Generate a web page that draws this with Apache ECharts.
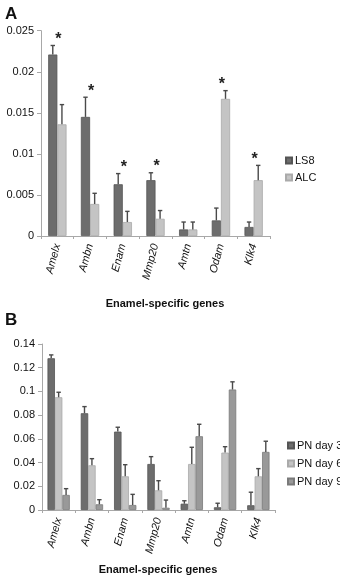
<!DOCTYPE html>
<html><head><meta charset="utf-8">
<script src="https://cdn.jsdelivr.net/npm/echarts@6/dist/echarts.min.js"></script>
<style>html,body{margin:0;padding:0;background:#fff}#c{width:340px;height:578px}</style>
</head><body><div id="c"></div>
<script>
const genes = ['Amelx','Ambn','Enam','Mmp20','Amtn','Odam','Klk4'];
// Panel A
const ticksA = [0, 0.005, 0.01, 0.015, 0.02, 0.025];
const ls8 = [0.0221, 0.0145, 0.0063, 0.0068, 0.0008, 0.0019, 0.0011];
const ls8Err = [0.0011, 0.0024, 0.0013, 0.0009, 0.0009, 0.0015, 0.0006];
const alc = [0.0136, 0.0039, 0.0017, 0.0021, 0.0008, 0.0167, 0.0068];
const alcErr = [0.0024, 0.0013, 0.0013, 0.0010, 0.0009, 0.0010, 0.0018];
const sigA = [1, 1, 1, 1, 0, 1, 1];
// Panel B
const ticksB = [0, 0.02, 0.04, 0.06, 0.08, 0.1, 0.12, 0.14];
const day3 = [0.128, 0.0816, 0.0661, 0.0388, 0.0053, 0.0023, 0.0040];
const day3Err = [0.0028, 0.0056, 0.0037, 0.0062, 0.0025, 0.0034, 0.0110];
const day6 = [0.0951, 0.0377, 0.0284, 0.0166, 0.0388, 0.0484, 0.0284];
const day6Err = [0.0042, 0.0056, 0.0098, 0.0081, 0.0141, 0.0050, 0.0065];
const day9 = [0.0127, 0.0048, 0.0042, 0.0019, 0.0622, 0.1016, 0.0490];
const day9Err = [0.0053, 0.0039, 0.0090, 0.0065, 0.0101, 0.0065, 0.0090];

const FONT = 'Liberation Sans, Arial, sans-serif';
const DARK = '#6d6d6d', LIGHT = '#c4c4c4', MID = '#999999';
const gapA = 0.44, gapB = 0.33;

function errSeries(name, vals, errs, idx, n, gap, ax) {
  return {
    type: 'custom', name: name + '_err', xAxisIndex: ax, yAxisIndex: ax, z: 5,
    silent: true, legendHoverLink: false,
    data: vals.map((v, i) => [i, v, errs[i]]),
    encode: { x: 0, y: 1 },
    renderItem: function (params, api) {
      const x = api.value(0), v = api.value(1), e = api.value(2);
      const band = api.size([1, 0])[0];
      const bw = band * (1 - gap) / n;
      const off = -band * (1 - gap) / 2 + bw * (idx + 0.5);
      const p0 = api.coord([x, v]);
      const p1 = api.coord([x, v + e]);
      const cx = p0[0] + off;
      const st = { stroke: '#4a4a4a', lineWidth: 1.4 };
      return { type: 'group', children: [
        { type: 'line', shape: { x1: cx, y1: p0[1], x2: cx, y2: p1[1] }, style: st },
        { type: 'line', shape: { x1: cx - 2.2, y1: p1[1], x2: cx + 2.2, y2: p1[1] }, style: st }
      ]};
    }
  };
}

function starSeries(sig, groups, ax) {
  return {
    type: 'custom', name: 'sig', xAxisIndex: ax, yAxisIndex: ax, z: 6, silent: true,
    data: sig.map((s, i) => [i, Math.max.apply(null, groups.map(g => g[0][i] + g[1][i])), s]),
    encode: { x: 0, y: 1 },
    renderItem: function (params, api) {
      if (!api.value(2)) return null;
      const p = api.coord([api.value(0), api.value(1)]);
      return { type: 'text', style: { text: '*', x: p[0] + 1, y: p[1] + 2, fill: '#222',
        font: 'bold 16px ' + FONT, align: 'center', verticalAlign: 'bottom' } };
    }
  };
}

function barS(name, data, color, border, ax, gap) {
  return { type: 'bar', name: name, data: data, xAxisIndex: ax, yAxisIndex: ax,
    barGap: '0%', barCategoryGap: (gap * 100) + '%',
    itemStyle: { color: color, borderColor: border, borderWidth: 0.8 } };
}

function fmt(v) { return String(parseFloat(v.toFixed(4))); }

const xAxisCommon = {
  type: 'category', data: genes,
  axisLine: { lineStyle: { color: '#a8a8a8', width: 1 } },
  axisTick: { show: true, length: 3, lineStyle: { color: '#a8a8a8' } },
  axisLabel: { rotate: 75, fontStyle: 'italic', fontSize: 11, color: '#111', fontFamily: FONT, margin: 8 }
};
function yAxis(ax, max, interval) {
  return { type: 'value', gridIndex: ax, min: 0, max: max, interval: interval,
    splitLine: { show: false },
    axisLine: { show: true, lineStyle: { color: '#a8a8a8' } },
    axisTick: { show: true, length: 4, lineStyle: { color: '#a8a8a8' } },
    axisLabel: { fontSize: 11, color: '#111', fontFamily: FONT, margin: 7, formatter: fmt } };
}

const legendText = { fontSize: 11, color: '#111', lineHeight: 13, width: 80, overflow: 'none', padding: [0, 0, 0, -2] };

const chart = echarts.init(document.getElementById('c'), null, { renderer: 'canvas' });
chart.setOption({
  animation: false,
  backgroundColor: '#fff',
  textStyle: { fontFamily: FONT },
  grid: [
    { left: 41, top: 30.7, width: 229, height: 205.3 },
    { left: 42, top: 344, width: 233, height: 166 }
  ],
  xAxis: [Object.assign({ gridIndex: 0 }, xAxisCommon), Object.assign({ gridIndex: 1 }, xAxisCommon)],
  yAxis: [yAxis(0, ticksA[ticksA.length - 1], ticksA[1]), yAxis(1, ticksB[ticksB.length - 1], ticksB[1])],
  legend: [
    { data: ['LS8', 'ALC'], orient: 'vertical', left: 285, top: 154, width: 80, icon: 'rect',
      itemWidth: 6, itemHeight: 6, itemGap: 4, padding: 0, textStyle: legendText },
    { data: ['PN day 3', 'PN day 6', 'PN day 9'], orient: 'vertical', left: 287, top: 439, width: 80, icon: 'rect',
      itemWidth: 6, itemHeight: 6, itemGap: 5, padding: 0, textStyle: legendText }
  ],
  graphic: [
    { type: 'text', left: 5, top: 6, style: { text: 'A', font: 'bold 17px ' + FONT, fill: '#111' } },
    { type: 'text', left: 5, top: 312, style: { text: 'B', font: 'bold 17px ' + FONT, fill: '#111' } },
    { type: 'text', x: 165, y: 304, style: { text: 'Enamel-specific genes', font: 'bold 11px ' + FONT, fill: '#111', align: 'center', verticalAlign: 'middle' } },
    { type: 'text', x: 158, y: 570, style: { text: 'Enamel-specific genes', font: 'bold 11px ' + FONT, fill: '#111', align: 'center', verticalAlign: 'middle' } }
  ],
  series: [
    barS('LS8', ls8, DARK, '#555', 0, gapA),
    barS('ALC', alc, LIGHT, '#aaa', 0, gapA),
    errSeries('LS8', ls8, ls8Err, 0, 2, gapA, 0),
    errSeries('ALC', alc, alcErr, 1, 2, gapA, 0),
    starSeries(sigA, [[ls8, ls8Err], [alc, alcErr]], 0),
    barS('PN day 3', day3, DARK, '#555', 1, gapB),
    barS('PN day 6', day6, LIGHT, '#aaa', 1, gapB),
    barS('PN day 9', day9, MID, '#7a7a7a', 1, gapB),
    errSeries('d3', day3, day3Err, 0, 3, gapB, 1),
    errSeries('d6', day6, day6Err, 1, 3, gapB, 1),
    errSeries('d9', day9, day9Err, 2, 3, gapB, 1)
  ]
});
</script></body></html>
